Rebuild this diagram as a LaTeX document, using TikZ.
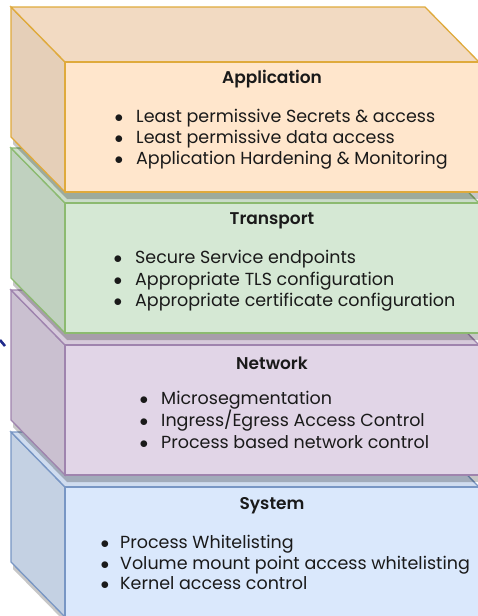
\documentclass[tikz,border=0pt]{standalone}
\usepackage{fontspec}
\setmainfont{Poppins}
\newfontfamily\titlefont{Poppins SemiBold}
\usepackage{tikz}
\usetikzlibrary{positioning}

\definecolor{appfill}{HTML}{FFE6CC}
\definecolor{appline}{HTML}{DFAA3C}
\definecolor{trafill}{HTML}{D5E8D4}
\definecolor{traline}{HTML}{8CBA70}
\definecolor{netfill}{HTML}{E1D5E7}
\definecolor{netline}{HTML}{9F84AE}
\definecolor{sysfill}{HTML}{DAE8FC}
\definecolor{sysline}{HTML}{7896C4}
\definecolor{inktext}{HTML}{1A1A1A}
\definecolor{markblue}{HTML}{1F2A8C}

\begin{document}
\begin{tikzpicture}[x=1pt,y=-1pt]
        % Styles
        \tikzset{
          face/.style={line width=1.3pt, line join=miter},
          shadowface/.style={fill=black, fill opacity=0.22, draw=none},
          layertitle/.style={
            font=\fontsize{17}{19}\titlefont,
            text=inktext, inner sep=0pt
          },
          item/.style={
            font=\fontsize{17.5}{20}\selectfont,
            text=inktext, inner sep=0pt, anchor=base west
          }
        }

        \useasboundingbox (0,0) rectangle (478,616);
        \clip (0,0) rectangle (478,616);

        % stray arrow end at the left border
        \draw[markblue, line width=2.6pt] (0,340) -- (5,346);

        % four stacked layers, bottom one first
        \foreach \t/\f/\l in {487/sysfill/sysline, 345/netfill/netline,
                              203/trafill/traline, 62/appfill/appline}{
          % drop shadow
          \fill[shadowface, shift={(2,7)}]
            (11,\t-55) -- (425,\t-55) -- (479,\t) -- (479,\t+130)
            -- (65,\t+130) -- (11,\t+75) -- cycle;
          % left face
          \draw[face, draw=\l, fill=\f!90!black]
            (11,\t-55) -- (65,\t) -- (65,\t+130) -- (11,\t+75) -- cycle;
          % top face
          \draw[face, draw=\l, fill=\f!95!black]
            (11,\t-55) -- (425,\t-55) -- (479,\t) -- (65,\t) -- cycle;
          % front face
          \draw[face, draw=\l, fill=\f] (65,\t) rectangle (479,\t+130);
        }

        % titles
        \node[layertitle] (app) at (272,79) {Application};
        \node[layertitle] (tra) at (272,221) {Transport};
        \node[layertitle] (net) at (272,363) {Network};
        \node[layertitle] (sys) at (272,506) {System};

        % bullet lists
        \foreach \y/\txt [count=\i] in {
            122/{Least permissive Secrets \& access},
            143/{Least permissive data access},
            164/{Application Hardening \& Monitoring}}
          \node[item] (app-\i) at (136,\y) {\llap{$\bullet$\hspace{13pt}}\txt};

        \foreach \y/\txt [count=\i] in {
            263/{Secure Service endpoints},
            285/{Appropriate TLS configuration},
            306/{Appropriate certificate configuration}}
          \node[item] (tra-\i) at (135,\y) {\llap{$\bullet$\hspace{13pt}}\txt};

        \foreach \y/\txt [count=\i] in {
            404/{Microsegmentation},
            426/{Ingress/Egress Access Control},
            448/{Process based network control}}
          \node[item] (net-\i) at (161,\y) {\llap{$\bullet$\hspace{13pt}}\txt};

        \foreach \y/\txt [count=\i] in {
            548/{Process Whitelisting},
            569/{Volume mount point access whitelisting},
            589/{Kernel access control}}
          \node[item] (sys-\i) at (120,\y) {\llap{$\bullet$\hspace{11pt}}\txt};
\end{tikzpicture}
\end{document}
